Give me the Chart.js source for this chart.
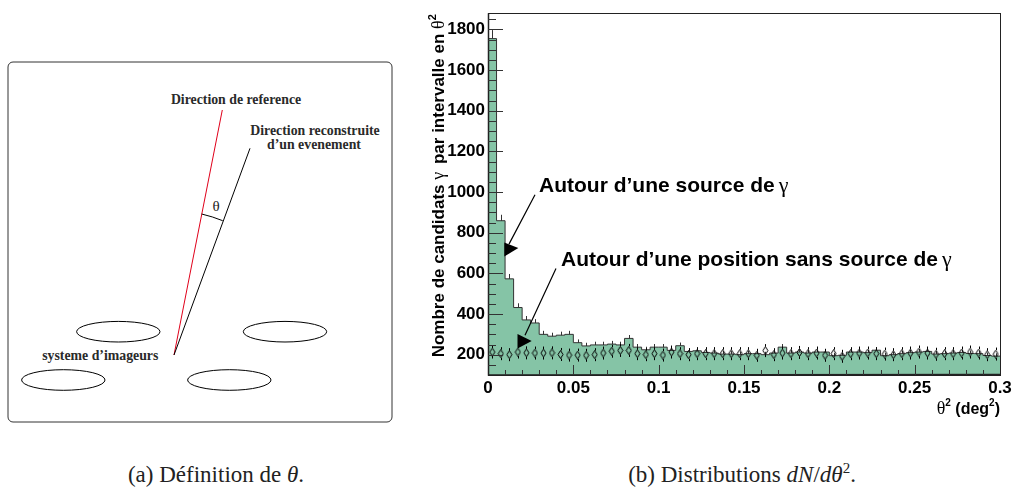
<!DOCTYPE html>
<html>
<head>
<meta charset="utf-8">
<script src="https://cdn.jsdelivr.net/npm/chart.js@4.4.1/dist/chart.umd.min.js"></script>
<style>
  html, body { margin: 0; padding: 0; background: #fff; }
  body { width: 1017px; height: 502px; position: relative; overflow: hidden; }
  #diagram { position: absolute; left: 0; top: 0; }
  #chartBox { position: absolute; left: 420px; top: 0; width: 597px; height: 420px; }
  .caption { position: absolute; top: 463px; font-family: 'Liberation Serif', serif; font-size: 23px;
             line-height: 23px; color: #222; white-space: nowrap; transform: translateX(-50%); }
  .caption sup { font-size: 15px; vertical-align: 9px; line-height: 0; }
</style>
</head>
<body>

<svg id="diagram" width="420" height="440" font-family="'Liberation Serif', serif">
  <rect x="8" y="62" width="384" height="360" rx="5" fill="none" stroke="#333" stroke-width="1"/>
  <line x1="222.3" y1="110" x2="174" y2="355" stroke="#e0001a" stroke-width="1"/>
  <line x1="250" y1="148.3" x2="174" y2="355" stroke="#000" stroke-width="1"/>
  <path d="M201.7,214 A143,143 0 0 1 222.7,220.7" fill="none" stroke="#000" stroke-width="1"/>
  <text x="216" y="211" font-size="15" text-anchor="middle" fill="#222">θ</text>
  <ellipse cx="118.3" cy="331.7" rx="41.7" ry="10.3" fill="none" stroke="#000"/>
  <ellipse cx="285" cy="331.7" rx="41.7" ry="10.3" fill="none" stroke="#000"/>
  <ellipse cx="63.3" cy="380" rx="41.7" ry="10.3" fill="none" stroke="#000"/>
  <ellipse cx="229.3" cy="380" rx="41.7" ry="10.3" fill="none" stroke="#000"/>
  <g font-size="13.8" font-weight="bold" fill="#2a2a2a" text-anchor="middle">
    <text x="236" y="104">Direction de reference</text>
    <text x="315" y="135">Direction reconstruite</text>
    <text x="314" y="149">d’un evenement</text>
    <text x="100.3" y="360">systeme d’imageurs</text>
  </g>
</svg>

<div id="chartBox"><canvas id="histChart"></canvas></div>

<div class="caption" style="left:216px">(a) Définition de <i>θ</i>.</div>
<div class="caption" style="left:742px">(b) Distributions <i>dN</i>/<i>dθ</i><sup>2</sup>.</div>

<script>
// theta^2 histogram, bins of 0.005 deg^2 from 0 to 0.3
const binWidth = 0.005;
const onCounts = [
  1755, 859, 573, 432, 371, 356, 300, 291, 296, 300,
  259, 243, 248, 248, 252, 248, 280, 237, 224, 237,
  237, 221, 244, 216, 219, 211, 208, 203, 203, 200,
  205, 205, 200, 208, 237, 208, 213, 208, 213, 213,
  195, 197, 213, 213, 210, 222, 195, 200, 205, 210,
  213, 216, 203, 205, 208, 211, 206, 205, 196, 193
];
const offCounts = [
  213, 205, 200, 213, 209, 208, 208, 209, 201, 198,
  198, 197, 200, 208, 217, 221, 221, 205, 200, 205,
  198, 213, 205, 200, 205, 205, 205, 205, 205, 205,
  205, 197, 220, 200, 208, 205, 211, 205, 208, 197,
  205, 192, 205, 208, 208, 205, 203, 200, 205, 208,
  213, 208, 202, 205, 205, 208, 213, 208, 200, 203
];
// error on the off-source points
const offError = 32;
const xTicks = [0, 0.05, 0.1, 0.15, 0.2, 0.25, 0.3];
const yTicks = [200, 400, 600, 800, 1000, 1200, 1400, 1600, 1800];
const xMin = 0, xMax = 0.3, yMin = 100, yMax = 1880;

const fillGreen = '#85c4a6';
const sans = '"Liberation Sans", Arial, sans-serif';
const serif = '"Liberation Serif", "Times New Roman", serif';

// histogram drawn as a stepped line from the low edge of each bin
const histPoints = onCounts.map((v, i) => ({ x: i * binWidth, y: v }));
histPoints.push({ x: xMax, y: onCounts[onCounts.length - 1] });
const offPoints = offCounts.map((v, i) => ({ x: (i + 0.5) * binWidth, y: v }));

// open diamond marker
const markerHalf = 4;
function makeDiamond() {
  const c = document.createElement('canvas');
  c.width = 7;
  c.height = 9;
  const g = c.getContext('2d');
  g.strokeStyle = '#000';
  g.lineWidth = 1;
  g.beginPath();
  g.moveTo(3.5, 0.5);
  g.lineTo(6, 4.5);
  g.lineTo(3.5, 8.5);
  g.lineTo(1, 4.5);
  g.closePath();
  g.stroke();
  return c;
}

// draw text pieces one after the other, returns total width
function drawPieces(ctx, pieces, x, y, measureOnly) {
  let w = 0;
  pieces.forEach(p => {
    ctx.font = p.font;
    if (!measureOnly) ctx.fillText(p.t, x + w, y - (p.up || 0));
    w += ctx.measureText(p.t).width + (p.gap || 0);
  });
  return w;
}

const rootStyle = {
  id: 'rootStyle',
  beforeDatasetsDraw(chart) {
    // error bars of the histogram, the fill hides their lower half
    const ctx = chart.ctx, xs = chart.scales.x, ys = chart.scales.y;
    ctx.save();
    ctx.strokeStyle = '#333';
    ctx.lineWidth = 1;
    onCounts.forEach((v, i) => {
      const x = Math.round(xs.getPixelForValue((i + 0.5) * binWidth)) + 0.5;
      const e = Math.sqrt(v);
      ctx.beginPath();
      ctx.moveTo(x, ys.getPixelForValue(v - e));
      ctx.lineTo(x, ys.getPixelForValue(v + e));
      ctx.stroke();
    });
    ctx.restore();
  },
  afterDatasetsDraw(chart) {
    const ctx = chart.ctx, xs = chart.scales.x, ys = chart.scales.y;
    const ca = chart.chartArea;
    const px = v => xs.getPixelForValue(v);
    const py = v => ys.getPixelForValue(v);
    ctx.save();

    // error bars of the off-source points, stopping at the marker
    ctx.strokeStyle = '#000';
    ctx.lineWidth = 1;
    offCounts.forEach((v, i) => {
      const x = Math.round(px((i + 0.5) * binWidth)) + 0.5;
      const yc = py(v);
      const top = py(v + offError), bot = py(v - offError);
      ctx.beginPath();
      if (top < yc - markerHalf) {
        ctx.moveTo(x, top);
        ctx.lineTo(x, yc - markerHalf);
      }
      if (bot > yc + markerHalf) {
        ctx.moveTo(x, yc + markerHalf);
        ctx.lineTo(x, bot);
      }
      ctx.stroke();
    });

    // frame
    ctx.strokeStyle = '#222';
    ctx.lineWidth = 1;
    ctx.strokeRect(Math.round(ca.left) + 0.5, Math.round(ca.top) + 0.5,
                   Math.round(ca.right - ca.left), Math.round(ca.bottom - ca.top));
    ctx.lineWidth = 1.5;
    ctx.beginPath();
    ctx.moveTo(Math.round(ca.left) + 0.5, ca.top);
    ctx.lineTo(Math.round(ca.left) + 0.5, ca.bottom);
    ctx.lineTo(ca.right, ca.bottom - 0.5);
    ctx.stroke();

    // inward ticks
    ctx.lineWidth = 1;
    ctx.strokeStyle = '#333';
    for (let i = 1; i < 30; i++) {
      const x = Math.round(px(i * 0.01)) + 0.5;
      const len = i % 5 === 0 ? 10 : 5;
      ctx.beginPath();
      ctx.moveTo(x, ca.bottom);
      ctx.lineTo(x, ca.bottom - len);
      ctx.stroke();
    }
    for (let v = 150; v <= 1850; v += 50) {
      const y = Math.round(py(v)) + 0.5;
      const len = v % 200 === 0 ? 15 : 8;
      ctx.beginPath();
      ctx.moveTo(ca.left, y);
      ctx.lineTo(ca.left + len, y);
      ctx.stroke();
    }

    // annotations with arrows
    ctx.fillStyle = '#000';
    ctx.strokeStyle = '#000';
    ctx.lineWidth = 1.2;
    ctx.beginPath();
    ctx.moveTo(px(0.02754), py(987));
    ctx.lineTo(px(0.0123), py(744));
    ctx.moveTo(px(0.03984), py(624));
    ctx.lineTo(px(0.02168), py(296));
    ctx.stroke();
    [[0.00955, 752, 0.00955, 683, 0.01776, 725],
     [0.01729, 302, 0.01729, 230, 0.02561, 267]].forEach(t => {
      ctx.beginPath();
      ctx.moveTo(px(t[0]), py(t[1]));
      ctx.lineTo(px(t[2]), py(t[3]));
      ctx.lineTo(px(t[4]), py(t[5]));
      ctx.closePath();
      ctx.fill();
    });
    ctx.textBaseline = 'alphabetic';
    ctx.textAlign = 'left';
    drawPieces(ctx, [
      { t: 'Autour d\u2019une source de', font: 'bold 21px ' + sans, gap: 4 },
      { t: '\u03b3', font: '22px ' + serif }
    ], px(0.0299), py(1000));
    drawPieces(ctx, [
      { t: 'Autour d\u2019une position sans source de', font: 'bold 21px ' + sans, gap: 4 },
      { t: '\u03b3', font: '22px ' + serif }
    ], px(0.0428), py(635));

    // y axis title, rotated, ending at the top of the frame
    const yTitle = [
      { t: 'Nombre de candidats ', font: 'bold 17px ' + sans },
      { t: '\u03b3', font: '18px ' + serif, gap: 3 },
      { t: ' par intervalle en ', font: 'bold 17px ' + sans },
      { t: '\u03b8', font: '18px ' + serif },
      { t: '2', font: 'bold 11px ' + sans, up: 8 }
    ];
    const yw = drawPieces(ctx, yTitle, 0, 0, true);
    ctx.save();
    ctx.translate(24, ca.top + 1 + yw);
    ctx.rotate(-Math.PI / 2);
    drawPieces(ctx, yTitle, 0, 0);
    ctx.restore();

    // x axis title, right aligned
    const xTitle = [
      { t: '\u03b8', font: '18px ' + serif },
      { t: '2', font: 'bold 10px ' + sans, up: 8 },
      { t: ' (deg', font: 'bold 16px ' + sans },
      { t: '2', font: 'bold 10px ' + sans, up: 8 },
      { t: ')', font: 'bold 16px ' + sans }
    ];
    const xw = drawPieces(ctx, xTitle, 0, 0, true);
    drawPieces(ctx, xTitle, ca.right - xw, 414);

    ctx.restore();
  }
};

const tickFont = { family: 'Liberation Sans', size: 17, weight: 'bold' };

new Chart(document.getElementById('histChart'), {
  type: 'line',
  data: {
    datasets: [
      {
        type: 'scatter',
        label: 'Position sans source',
        data: offPoints,
        pointStyle: makeDiamond(),
        pointRadius: 4,
        showLine: false,
        order: 0
      },
      {
        label: 'Autour de la source',
        data: histPoints,
        stepped: true,
        fill: 'start',
        backgroundColor: fillGreen,
        borderColor: '#333',
        borderWidth: 1,
        pointRadius: 0,
        order: 1
      }
    ]
  },
  options: {
    responsive: true,
    maintainAspectRatio: false,
    animation: false,
    layout: { padding: { top: 3, right: 17, left: 0, bottom: 0 } },
    plugins: {
      legend: { display: false },
      tooltip: { enabled: false }
    },
    scales: {
      x: {
        type: 'linear',
        min: xMin,
        max: xMax,
        afterBuildTicks: s => { s.ticks = xTicks.map(v => ({ value: v })); },
        afterFit: s => { s.height = 45; },
        ticks: {
          padding: 3,
          color: '#000',
          font: tickFont,
          maxRotation: 0,
          autoSkip: false,
          callback: v => String(v)
        },
        grid: { display: false, drawTicks: false },
        border: { display: false }
      },
      y: {
        min: yMin,
        max: yMax,
        afterBuildTicks: s => { s.ticks = yTicks.map(v => ({ value: v })); },
        afterFit: s => { s.width = 68; },
        ticks: {
          padding: 3,
          color: '#000',
          font: tickFont,
          callback: v => String(v)
        },
        grid: { display: false, drawTicks: false },
        border: { display: false }
      }
    }
  },
  plugins: [rootStyle]
});
</script>
</body>
</html>
